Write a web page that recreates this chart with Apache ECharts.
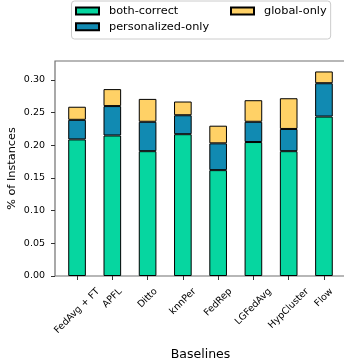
<!DOCTYPE html>
<html>
<head>
<meta charset="utf-8">
<script src="https://cdn.jsdelivr.net/npm/echarts@6/dist/echarts.min.js"></script>
<style>
  html, body { margin: 0; padding: 0; background: #fff; }
  #chart { width: 344px; height: 362px; }
</style>
</head>
<body>
<div id="chart"></div>
<script>
// Share of test instances per baseline, split by which model gets them right
const categories = ['FedAvg + FT', 'APFL', 'Ditto', 'knnPer', 'FedRep', 'LGFedAvg', 'HypCluster', 'Flow'];
const bothCorrect      = [0.209, 0.215, 0.191, 0.217, 0.162, 0.205, 0.191, 0.244];
const personalizedOnly = [0.030, 0.045, 0.045, 0.029, 0.041, 0.031, 0.034, 0.051];
const globalOnly       = [0.020, 0.026, 0.035, 0.021, 0.027, 0.033, 0.047, 0.018];
const yTickValues = [0, 0.05, 0.10, 0.15, 0.20, 0.25, 0.30];

const FONT = 'DejaVu Sans';
const TICK_FONT = 9.5;
const LABEL_LINE = 11;
const Y_MAX = 0.329;

const chart = echarts.init(document.getElementById('chart'), null, { renderer: 'canvas' });

// Axes frame; the category bands sit inside it with a small margin on each side
const frame = { left: 55, right: -2, top: 61, bottom: 86 };
const span = categories.length + 0.25;            // bands plus side margins
const unitPx = (chart.getWidth() - frame.left - frame.right) / span;
const inset = 0.125 * unitPx;

// Rotated tick labels sit centred under their ticks: each label gets its own
// rich-text padding so that it is pushed down by half of its rotated extent.
const ctx = document.createElement('canvas').getContext('2d');
ctx.font = TICK_FONT + 'px "' + FONT + '"';
const rich = {};
categories.forEach((c, i) => {
  const w = ctx.measureText(c).width;
  const p = (w + LABEL_LINE) / 2;
  rich['c' + i] = {
    fontSize: TICK_FONT, fontFamily: FONT, color: '#000',
    lineHeight: LABEL_LINE, padding: [p, p, 0, 0]
  };
});

function barSeries(name, values, color) {
  return {
    name: name,
    type: 'bar',
    stack: 'total',
    barWidth: '50%',
    xAxisIndex: 0, yAxisIndex: 0,
    data: values,
    itemStyle: { color: color, borderColor: '#000', borderWidth: 1 }
  };
}

const legendText = { fontFamily: FONT, fontSize: 11.3, color: '#000', lineHeight: 13, padding: [0, 0, 0, 5] };

chart.setOption({
  animation: false,
  backgroundColor: '#fff',
  grid: [
    {
      left: frame.left + inset, right: frame.right + inset,
      top: frame.top, bottom: frame.bottom,
      outerBoundsMode: 'none'
    },
    Object.assign({
      show: true, borderColor: '#707070', borderWidth: 1.2,
      backgroundColor: 'transparent', outerBoundsMode: 'none'
    }, frame)
  ],
  legend: [
    {
      data: ['both-correct', 'personalized-only'],
      orient: 'vertical',
      left: 71.5, top: 1,
      padding: [3.5, 121.5, 5.8, 3.5],
      itemWidth: 23, itemHeight: 7, itemGap: 2.7,
      icon: 'rect',
      borderColor: '#cccccc', borderWidth: 1, borderRadius: 3,
      backgroundColor: 'rgba(255,255,255,0.8)',
      textStyle: legendText
    },
    {
      data: ['global-only'],
      orient: 'vertical',
      left: 230, top: 4.5,
      padding: 0,
      itemWidth: 23, itemHeight: 7,
      icon: 'rect',
      textStyle: legendText
    }
  ],
  xAxis: [
    {
      type: 'category',
      gridIndex: 0,
      data: categories,
      axisLine: { show: false },
      splitLine: { show: false },
      axisTick: { show: true, alignWithLabel: true, interval: 0, length: 4, lineStyle: { color: '#333', width: 1 } },
      axisLabel: {
        interval: 0,
        rotate: 45,
        align: 'center',
        verticalAlign: 'middle',
        margin: 10,
        formatter: (v, i) => '{c' + i + '|' + v + '}',
        rich: rich
      },
      name: 'Baselines',
      nameLocation: 'middle',
      nameGap: 72,
      nameMoveOverlap: false,
      nameTextStyle: { fontFamily: FONT, fontSize: 12.5, color: '#000' }
    },
    { type: 'value', gridIndex: 1, show: false }
  ],
  yAxis: [
    {
      type: 'value',
      gridIndex: 0,
      min: 0, max: Y_MAX,
      offset: inset,
      axisLine: { show: false },
      splitLine: { show: false },
      axisTick: { show: true, customValues: yTickValues, length: 4, lineStyle: { color: '#333', width: 1 } },
      axisLabel: {
        customValues: yTickValues,
        showMinLabel: true,
        showMaxLabel: true,
        formatter: v => v.toFixed(2),
        margin: 10,
        fontFamily: FONT, fontSize: TICK_FONT, color: '#000'
      },
      name: '% of Instances',
      nameLocation: 'middle',
      nameGap: 37,
      nameMoveOverlap: false,
      nameTextStyle: { fontFamily: FONT, fontSize: 11.3, color: '#000' }
    },
    { type: 'value', gridIndex: 1, show: false }
  ],
  series: [
    barSeries('both-correct', bothCorrect, '#06D6A0'),
    barSeries('personalized-only', personalizedOnly, '#118AB2'),
    barSeries('global-only', globalOnly, '#FFD166')
  ]
});
</script>
</body>
</html>
